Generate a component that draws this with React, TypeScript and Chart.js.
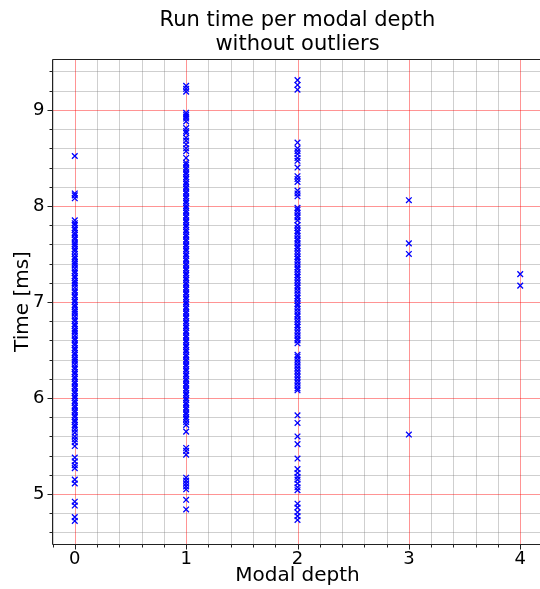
import React, { useEffect, useRef } from 'react';
import { Chart, registerables } from 'chart.js';

Chart.register(...registerables);

const depths = [0, 1, 2, 3, 4];

const depth0Times = [
  8.52, 8.13, 8.11, 8.08,
  7.85, 7.82, 7.8, 7.77, 7.75, 7.72, 7.7, 7.67, 7.65, 7.62, 7.6, 7.58, 7.55, 7.53, 7.5, 7.47,
  7.45, 7.42, 7.4, 7.38, 7.35, 7.32, 7.3, 7.27, 7.25, 7.22, 7.2, 7.18, 7.15, 7.12, 7.1, 7.07,
  7.05, 7.02, 7.0, 6.97, 6.95, 6.92, 6.9, 6.88, 6.85, 6.82, 6.8, 6.77, 6.75, 6.72, 6.7, 6.68,
  6.65, 6.62, 6.6, 6.57, 6.55, 6.52, 6.5, 6.47, 6.45, 6.42, 6.4, 6.38, 6.35, 6.32, 6.3, 6.27,
  6.25, 6.22, 6.2, 6.17, 6.15, 6.12, 6.1, 6.07, 6.05, 6.02, 6.0, 5.97, 5.95, 5.92, 5.9, 5.87,
  5.85, 5.82, 5.8, 5.77, 5.75, 5.72, 5.7, 5.67, 5.64, 5.6, 5.57, 5.54, 5.5,
  5.38, 5.34, 5.3, 5.27, 5.15, 5.11, 4.92, 4.88, 4.76, 4.72,
];

const depth1Times = [
  9.25, 9.22, 9.19, 8.97, 8.95, 8.93, 8.91, 8.88, 8.81, 8.78, 8.76, 8.71, 8.68, 8.64, 8.6, 8.57, 8.5,
  8.45, 8.43, 8.4, 8.38, 8.35, 8.33, 8.3, 8.28, 8.25, 8.23, 8.2, 8.18, 8.15, 8.13, 8.1, 8.08,
  8.05, 8.03, 8.0, 7.98, 7.95, 7.93, 7.9, 7.88, 7.85, 7.83, 7.8, 7.78, 7.75, 7.73, 7.7, 7.68,
  7.65, 7.63, 7.6, 7.58, 7.55, 7.53, 7.5, 7.48, 7.45, 7.43, 7.4, 7.38, 7.35, 7.33, 7.3, 7.28,
  7.25, 7.23, 7.2, 7.18, 7.15, 7.13, 7.1, 7.08, 7.05, 7.03, 7.0, 6.98, 6.95, 6.93, 6.9, 6.88,
  6.85, 6.83, 6.8, 6.78, 6.75, 6.73, 6.7, 6.68, 6.65, 6.63, 6.6, 6.58, 6.55, 6.53, 6.5, 6.48,
  6.45, 6.43, 6.4, 6.38, 6.35, 6.33, 6.3, 6.28, 6.25, 6.23, 6.2, 6.18, 6.15, 6.13, 6.1, 6.08,
  6.05, 6.03, 6.0, 5.98, 5.95, 5.93, 5.9, 5.88, 5.85, 5.83, 5.8, 5.78, 5.75, 5.72,
  5.65, 5.48, 5.45, 5.41, 5.17, 5.14, 5.11, 5.08, 5.05, 4.94, 4.84,
];

const depth2Times = [
  9.31, 9.26, 9.21, 8.66, 8.6, 8.57, 8.54, 8.5, 8.47, 8.4, 8.31, 8.28, 8.25, 8.16, 8.13, 8.1,
  7.98, 7.96, 7.93, 7.9, 7.88, 7.85, 7.8, 7.77, 7.74, 7.72, 7.69, 7.66, 7.64, 7.61, 7.58, 7.56,
  7.53, 7.5, 7.47, 7.45, 7.42, 7.39, 7.36, 7.34, 7.31, 7.28, 7.26, 7.23, 7.2, 7.17, 7.15, 7.12,
  7.09, 7.06, 7.04, 7.01, 6.98, 6.96, 6.93, 6.9, 6.87, 6.85, 6.82, 6.79, 6.76, 6.74, 6.71, 6.68,
  6.65, 6.62, 6.6, 6.57,
  6.45, 6.43, 6.4, 6.37, 6.34, 6.31, 6.28, 6.25, 6.22, 6.19, 6.16, 6.13, 6.1, 6.08,
  5.82, 5.74, 5.6, 5.52, 5.37, 5.26, 5.22, 5.18, 5.15, 5.11, 5.07, 5.04, 4.9, 4.86, 4.81, 4.77, 4.73,
];

const depth3Times = [8.06, 7.61, 7.5, 5.62];
const depth4Times = [7.29, 7.17];

const timesByDepth = [depth0Times, depth1Times, depth2Times, depth3Times, depth4Times];

const xTickValues = [
  -0.2, 0, 0.2, 0.4, 0.6, 0.8, 1, 1.2, 1.4, 1.6, 1.8, 2, 2.2, 2.4, 2.6, 2.8, 3, 3.2, 3.4, 3.6, 3.8, 4, 4.2,
];
const yTickValues = [
  4.6, 4.8, 5, 5.2, 5.4, 5.6, 5.8, 6, 6.2, 6.4, 6.6, 6.8, 7, 7.2, 7.4, 7.6, 7.8, 8, 8.2, 8.4, 8.6, 8.8, 9, 9.2, 9.4,
];
const xMajorLabels = ['0', '1', '2', '3', '4'];
const yMajorLabels = ['5', '6', '7', '8', '9'];

const titleLines = ['Run time per modal depth', 'without outliers'];
const xTitle = 'Modal depth';
const yTitle = 'Time [ms]';

const FONT = "'DejaVu Sans', sans-serif";
const MAJOR_GRID = 'rgba(255,0,0,0.42)';
const MINOR_GRID = 'rgba(128,128,128,0.38)';

const isMajor = (v: number) => Math.abs(v - Math.round(v)) < 1e-6;
const labelFor = (labels: string[], v: number) =>
  isMajor(v) ? labels.find((l) => Number(l) === Math.round(v)) ?? '' : '';

const gridPlugin = {
  id: 'mplGrid',
  beforeDatasetsDraw(chart: any) {
    const { ctx, chartArea: a, scales } = chart;
    const xs = scales.x;
    const ys = scales.y;
    ctx.save();
    ctx.lineWidth = 1;
    for (const major of [false, true]) {
      ctx.strokeStyle = major ? MAJOR_GRID : MINOR_GRID;
      ctx.beginPath();
      for (const v of xTickValues) {
        if (isMajor(v) !== major) continue;
        const px = Math.round(xs.getPixelForValue(v)) + 0.5;
        if (px < a.left || px > a.right) continue;
        ctx.moveTo(px, a.top);
        ctx.lineTo(px, a.bottom);
      }
      for (const v of yTickValues) {
        if (isMajor(v) !== major) continue;
        const py = Math.round(ys.getPixelForValue(v)) + 0.5;
        if (py < a.top || py > a.bottom) continue;
        ctx.moveTo(a.left, py);
        ctx.lineTo(a.right, py);
      }
      ctx.stroke();
    }
    ctx.restore();
  },
  afterDraw(chart: any) {
    const { ctx, chartArea: a, scales } = chart;
    const xs = scales.x;
    const ys = scales.y;
    ctx.save();
    ctx.strokeStyle = '#222';
    ctx.lineWidth = 1;
    const bottom = Math.round(a.bottom) + 0.5;
    const left = Math.round(a.left - 0.5) + 0.5;
    const top = Math.round(a.top) + 0.5;
    const right = Math.round(a.right) + 0.5;
    ctx.beginPath();
    for (const v of xTickValues) {
      const px = Math.round(xs.getPixelForValue(v)) + 0.5;
      if (px < a.left || px > a.right) continue;
      const len = isMajor(v) ? 5 : 3;
      ctx.moveTo(px, bottom);
      ctx.lineTo(px, bottom + len);
    }
    for (const v of yTickValues) {
      const py = Math.round(ys.getPixelForValue(v)) + 0.5;
      const len = isMajor(v) ? 5 : 3;
      ctx.moveTo(left, py);
      ctx.lineTo(left - len, py);
    }
    ctx.stroke();
    ctx.beginPath();
    ctx.moveTo(left, top);
    ctx.lineTo(right, top);
    ctx.lineTo(right, bottom);
    ctx.lineTo(left, bottom);
    ctx.closePath();
    ctx.stroke();
    ctx.restore();
  },
};

export default function App() {
  const canvasRef = useRef<HTMLCanvasElement | null>(null);

  useEffect(() => {
    if (!canvasRef.current) return;
    const points: { x: number; y: number }[] = [];
    depths.forEach((d, i) => {
      timesByDepth[i].forEach((t) => points.push({ x: d, y: t }));
    });

    const chart = new Chart(canvasRef.current, {
      type: 'scatter',
      data: {
        datasets: [
          {
            data: points,
            pointStyle: 'crossRot',
            pointRadius: 4,
            pointBorderWidth: 1.3,
            borderColor: '#0000ff',
            backgroundColor: '#0000ff',
          } as any,
        ],
      },
      options: {
        animation: false,
        responsive: false,
        devicePixelRatio: 1,
        events: [],
        layout: { autoPadding: false, padding: { left: 0, right: 0.5, top: 0, bottom: 0 } },
        plugins: {
          legend: { display: false },
          tooltip: { enabled: false },
          title: {
            display: true,
            text: titleLines,
            fullSize: false,
            color: '#000',
            font: { family: FONT, size: 21, weight: 'normal', lineHeight: '24px' } as any,
            padding: { top: 9, bottom: 2 },
          },
        },
        scales: {
          x: {
            type: 'linear',
            min: -0.2,
            max: 4.2,
            afterBuildTicks: (s: any) => {
              s.ticks = xTickValues.map((v) => ({ value: v }));
            },
            afterFit: (s: any) => {
              s.height = 45;
              s.paddingLeft = 0;
              s.paddingRight = 0;
            },
            grid: { display: false, drawTicks: false },
            border: { display: false },
            ticks: {
              autoSkip: false,
              maxRotation: 0,
              padding: 5,
              color: '#000',
              font: { family: FONT, size: 18 },
              callback: (v: any) => labelFor(xMajorLabels, Number(v)),
            },
            title: {
              display: true,
              text: xTitle,
              color: '#000',
              font: { family: FONT, size: 20 },
              padding: { top: 0, bottom: 1.6 },
            },
          },
          y: {
            type: 'linear',
            min: 4.48,
            max: 9.53,
            afterBuildTicks: (s: any) => {
              s.ticks = yTickValues.map((v) => ({ value: v }));
            },
            afterFit: (s: any) => {
              s.width = 52.5;
              s.paddingTop = 0;
              s.paddingBottom = 0;
            },
            grid: { display: false, drawTicks: false },
            border: { display: false },
            ticks: {
              autoSkip: false,
              padding: 8,
              color: '#000',
              font: { family: FONT, size: 18 },
              callback: (v: any) => labelFor(yMajorLabels, Number(v)),
            },
            title: {
              display: true,
              text: yTitle,
              color: '#000',
              font: { family: FONT, size: 20 },
              padding: { top: 11, bottom: 0 },
            },
          },
        },
      } as any,
      plugins: [gridPlugin],
    });

    return () => chart.destroy();
  }, []);

  return (
    <div style={{ position: 'absolute', left: 0, top: 0, width: 540, height: 589, overflow: 'hidden', background: '#fff' }}>
      <div style={{ width: 543, height: 589 }}>
        <canvas ref={canvasRef} width={543} height={589} style={{ width: 543, height: 589, display: 'block' }} />
      </div>
    </div>
  );
}
